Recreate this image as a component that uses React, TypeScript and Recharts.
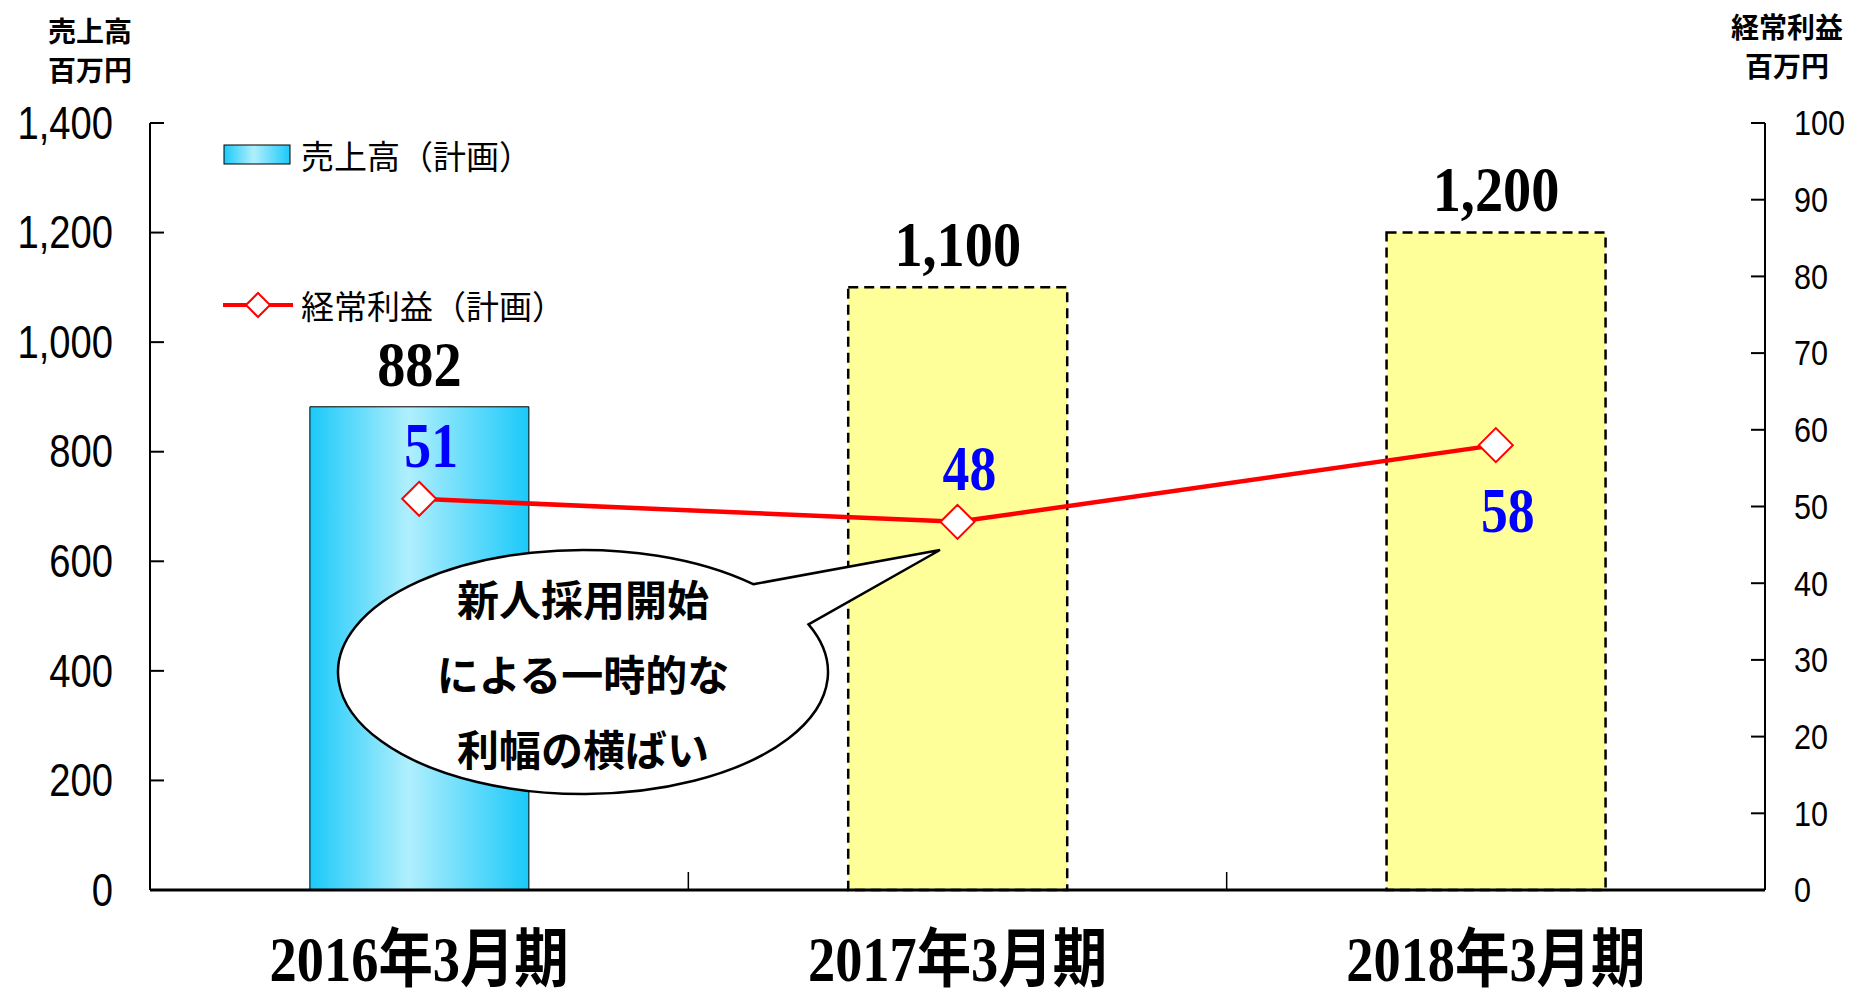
import React from 'react';
import { Bar, Cell, ComposedChart, LabelList, Legend, Line, XAxis, YAxis } from 'recharts';

const PERIODS = ['2016年3月期', '2017年3月期', '2018年3月期'];
const SALES = [882, 1100, 1200];
const PROFIT = [51, 48, 58];
const IS_ACTUAL = [true, false, false];
const SALES_TICKS = [0, 200, 400, 600, 800, 1000, 1200, 1400];
const PROFIT_TICKS = [0, 10, 20, 30, 40, 50, 60, 70, 80, 90, 100];
const SALES_NAME = '売上高（計画）';
const PROFIT_NAME = '経常利益（計画）';
const LEFT_TITLE = ['売上高', '百万円'];
const RIGHT_TITLE = ['経常利益', '百万円'];
const NOTE_LINES = ['新人採用開始', 'による一時的な', '利幅の横ばい'];
const LABEL_BELOW = ['2018年3月期'];

const data = PERIODS.map((period, i) => ({ period, sales: SALES[i], profit: PROFIT[i] }));

const W = 1854;
const H = 999;
const LEFT_W = 150;
const RIGHT_W = 89;
const TOP = 123;
const X_H = 109;
const BAND = (W - LEFT_W - RIGHT_W) / PERIODS.length;

const SERIF = "'Liberation Serif', 'Noto Sans CJK JP', serif";
const SANS = "'Liberation Sans', 'DejaVu Sans', sans-serif";
const CJK = "'Noto Sans CJK JP', sans-serif";

const LeftTick = ({ x, y, payload }: any) => (
  <g>
    <line x1={x} x2={x + 14} y1={y} y2={y} stroke="#000" strokeWidth={2} />
    <text
      transform={`translate(${x - 37},${y}) scale(0.83,1)`}
      textAnchor="end"
      dominantBaseline="central"
      fontSize={46}
      fontFamily={SANS}
      fill="#000"
    >
      {Number(payload.value).toLocaleString('en-US')}
    </text>
  </g>
);

const RightTick = ({ x, y, payload }: any) => (
  <g>
    <line x1={x - 14} x2={x} y1={y} y2={y} stroke="#000" strokeWidth={2} />
    <text
      transform={`translate(${x + 29},${y}) scale(0.85,1)`}
      textAnchor="start"
      dominantBaseline="central"
      fontSize={36}
      fontFamily={SANS}
      fill="#000"
    >
      {payload.value}
    </text>
  </g>
);

const PeriodTick = ({ x, y, payload, index }: any) => (
  <g>
    {index < PERIODS.length - 1 && (
      <line x1={x + BAND / 2} x2={x + BAND / 2} y1={y} y2={y - 18} stroke="#000" strokeWidth={1.5} />
    )}
    <text
      transform={`translate(${x},${y + 69}) scale(0.85,1)`}
      textAnchor="middle"
      dominantBaseline="central"
      fontSize={64}
      fontWeight="bold"
      fontFamily={SERIF}
      fill="#000"
    >
      {payload.value}
    </text>
  </g>
);

const SalesLabel = ({ x, y, width, value }: any) => (
  <text
    transform={`translate(${x + width / 2},${y - 43}) scale(0.88,1)`}
    textAnchor="middle"
    dominantBaseline="central"
    fontSize={64}
    fontWeight="bold"
    fontFamily={SERIF}
    fill="#000"
  >
    {Number(value).toLocaleString('en-US')}
  </text>
);

const ProfitLabel = ({ x, y, value, index }: any) => {
  const below = LABEL_BELOW.includes(PERIODS[index]);
  return (
    <text
      transform={`translate(${x + 12},${below ? y + 65 : y - 53}) scale(0.84,1)`}
      textAnchor="middle"
      dominantBaseline="central"
      fontSize={64}
      fontWeight="bold"
      fontFamily={SERIF}
      fill="#0000ff"
    >
      {value}
    </text>
  );
};

const Diamond = ({ cx, cy }: any) => (
  <polygon
    points={`${cx},${cy - 17} ${cx + 17},${cy} ${cx},${cy + 17} ${cx - 17},${cy}`}
    fill="#fff"
    stroke="#ff0000"
    strokeWidth={2}
  />
);

const LegendBox = ({ payload }: any) => (
  <div style={{ display: 'flex', flexDirection: 'column', gap: 110 }}>
    {(payload || []).map((p: any) => (
      <div key={p.value} style={{ display: 'flex', alignItems: 'center', height: 40 }}>
        {p.dataKey === 'sales' ? (
          <svg width={69} height={22} style={{ marginRight: 9 }}>
            <defs>
              <linearGradient id="legendGrad" x1="0" y1="0" x2="1" y2="0">
                <stop offset="0" stopColor="#1bc9f9" />
                <stop offset="0.45" stopColor="#b0effd" />
                <stop offset="1" stopColor="#1bc9f9" />
              </linearGradient>
            </defs>
            <rect x={1} y={1} width={66} height={19} fill="url(#legendGrad)" stroke="#000" strokeWidth={1} />
          </svg>
        ) : (
          <svg width={70} height={30} style={{ marginRight: 8 }}>
            <line x1={0} x2={70} y1={15} y2={15} stroke="#ff0000" strokeWidth={4} />
            <polygon points="35,3 47,15 35,27 23,15" fill="#fff" stroke="#ff0000" strokeWidth={2} />
          </svg>
        )}
        <span style={{ fontFamily: CJK, fontSize: 33, color: '#000', whiteSpace: 'nowrap' }}>{p.value}</span>
      </div>
    ))}
  </div>
);

const Bubble = () => {
  const cx = 583;
  const cy = 672;
  const rx = 245;
  const ry = 122;
  const pt = (deg: number) => {
    const t = (deg * Math.PI) / 180;
    return [cx + rx * Math.cos(t), cy + ry * Math.sin(t)];
  };
  const a = pt(-46);
  const b = pt(-23);
  const d = `M ${a[0]} ${a[1]} L 940 550 L ${b[0]} ${b[1]} A ${rx} ${ry} 0 1 1 ${a[0]} ${a[1]} Z`;
  return (
    <g>
      <path d={d} fill="#fff" stroke="#000" strokeWidth={2.5} />
      {NOTE_LINES.map((line, i) => (
        <text
          key={line}
          x={cx}
          y={597 + i * 75}
          textAnchor="middle"
          dominantBaseline="central"
          fontSize={42}
          fontWeight="bold"
          fontFamily={CJK}
          fill="#000"
        >
          {line}
        </text>
      ))}
    </g>
  );
};

export default function App() {
  return (
    <div style={{ position: 'absolute', left: 0, top: 0, width: W, height: H, background: '#fff' }}>
      <ComposedChart
        width={W}
        height={H}
        data={data}
        margin={{ top: TOP, right: 0, bottom: 0, left: 0 }}
        barCategoryGap="29.7%"
      >
        <defs>
          <linearGradient id="salesGrad" x1="0" y1="0" x2="1" y2="0">
            <stop offset="0" stopColor="#1bc9f9" />
            <stop offset="0.45" stopColor="#b0effd" />
            <stop offset="1" stopColor="#1bc9f9" />
          </linearGradient>
        </defs>
        <XAxis
          dataKey="period"
          height={X_H}
          tickLine={false}
          tickSize={0}
          tickMargin={0}
          interval={0}
          axisLine={{ stroke: '#000', strokeWidth: 3 }}
          tick={<PeriodTick />}
        />
        <YAxis
          yAxisId="left"
          orientation="left"
          width={LEFT_W}
          domain={[0, 1400]}
          ticks={SALES_TICKS}
          interval={0}
          tickLine={false}
          tickSize={0}
          tickMargin={0}
          axisLine={{ stroke: '#000', strokeWidth: 2 }}
          tick={<LeftTick />}
        />
        <YAxis
          yAxisId="right"
          orientation="right"
          width={RIGHT_W}
          domain={[0, 100]}
          ticks={PROFIT_TICKS}
          interval={0}
          tickLine={false}
          tickSize={0}
          tickMargin={0}
          axisLine={{ stroke: '#000', strokeWidth: 2 }}
          tick={<RightTick />}
        />
        <Legend
          layout="vertical"
          align="center"
          verticalAlign="middle"
          content={<LegendBox />}
          wrapperStyle={{ left: 223, top: 135, width: 400, height: 200 }}
        />
        <Bar yAxisId="left" dataKey="sales" name={SALES_NAME} isAnimationActive={false}>
          {data.map((d, i) =>
            IS_ACTUAL[i] ? (
              <Cell key={d.period} fill="url(#salesGrad)" stroke="#000" strokeWidth={1} />
            ) : (
              <Cell key={d.period} fill="#ffff99" stroke="#000" strokeWidth={2.5} strokeDasharray="10 6" />
            )
          )}
          <LabelList dataKey="sales" content={<SalesLabel />} />
        </Bar>
        <Line
          yAxisId="right"
          dataKey="profit"
          name={PROFIT_NAME}
          stroke="#ff0000"
          strokeWidth={4.5}
          dot={<Diamond />}
          activeDot={false}
          isAnimationActive={false}
        >
          <LabelList dataKey="profit" content={<ProfitLabel />} />
        </Line>
      </ComposedChart>
      <svg width={W} height={H} style={{ position: 'absolute', left: 0, top: 0, pointerEvents: 'none' }}>
        <Bubble />
        {LEFT_TITLE.map((t, i) => (
          <text key={t} x={90} y={30 + i * 39} textAnchor="middle" dominantBaseline="central" fontSize={28} fontWeight="bold" fontFamily={CJK} fill="#000">
            {t}
          </text>
        ))}
        {RIGHT_TITLE.map((t, i) => (
          <text key={t} x={1787} y={26 + i * 39} textAnchor="middle" dominantBaseline="central" fontSize={28} fontWeight="bold" fontFamily={CJK} fill="#000">
            {t}
          </text>
        ))}
      </svg>
    </div>
  );
}
